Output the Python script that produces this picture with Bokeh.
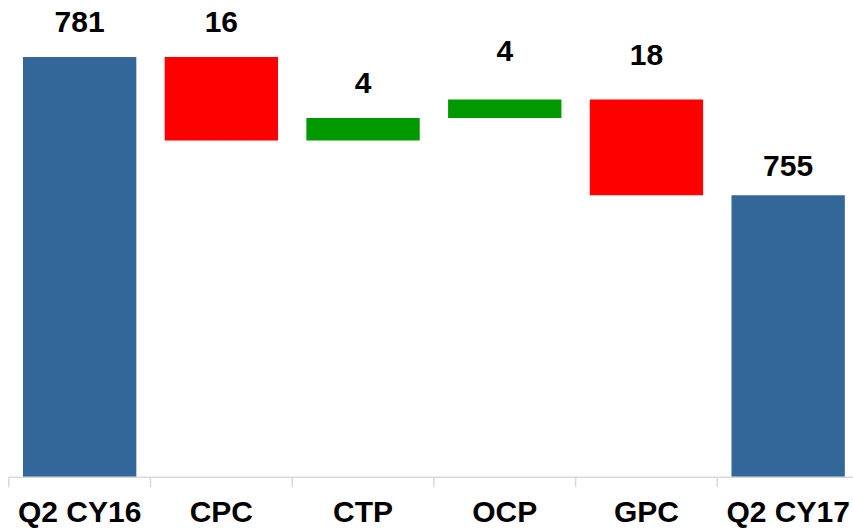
from bokeh.plotting import figure
from bokeh.models import ColumnDataSource, Range1d
from bokeh.core.properties import value
from bokeh.embed import file_html
from bokeh.resources import INLINE

categories = ["Q2 CY16", "CPC", "CTP", "OCP", "GPC", "Q2 CY17"]
changes = [781, -15.7, 4.2, 3.5, -18.0, 755]
is_total = [True, False, False, False, False, True]
value_labels = ["781", "16", "4", "4", "18", "755"]

BLUE, RED, GREEN = "#336699", "#FF0000", "#009900"
AXIS_GRAY = "#D9D9D9"
Y0 = 702          # value where the category axis sits

W, H = 853, 531
PX_X = 141.7      # pixels per category
PX_Y = 5.32       # pixels per unit
LEFT_PAD = 8.3    # pixels from left edge to first category boundary
AXIS_PX = 476.7   # pixels from top edge to axis line
# gap in pixels between each value label and the top of its bar
label_gap_px = [24, 24, 24, 37, 33, 18]

x_start = -LEFT_PAD / PX_X
y_end = Y0 + AXIS_PX / PX_Y

xs, bottoms, tops, colors = [], [], [], []
run = 0
for i, (c, t) in enumerate(zip(changes, is_total)):
    xs.append(i + 0.5)
    if t:
        bottoms.append(Y0)
        tops.append(c)
        run = c
        colors.append(BLUE)
    else:
        new = run + c
        bottoms.append(min(run, new))
        tops.append(max(run, new))
        colors.append(GREEN if c > 0 else RED)
        run = new

label_y = [t + g / PX_Y for t, g in zip(tops, label_gap_px)]

src = ColumnDataSource(dict(x=xs, bottom=bottoms, top=tops, color=colors))
lab_src = ColumnDataSource(dict(x=xs, y=label_y, label=value_labels))
cat_src = ColumnDataSource(dict(x=xs, y=[Y0] * len(xs), label=categories))

p = figure(width=W, height=H, output_backend="svg", toolbar_location=None,
           x_range=Range1d(x_start, x_start + W / PX_X),
           y_range=Range1d(y_end - H / PX_Y, y_end),
           x_axis_location=None, y_axis_location=None,
           min_border=0)
p.outline_line_color = None
p.xgrid.visible = False
p.ygrid.visible = False

p.vbar(x="x", bottom="bottom", top="top", width=0.8, fill_color="color",
       line_color=None, source=src)

# category axis line and boundary ticks
n = len(categories)
p.segment(x0=[0], y0=[Y0], x1=[n], y1=[Y0], line_color=AXIS_GRAY, line_width=1.5)
bounds = list(range(n))
p.segment(x0=bounds, y0=[Y0] * n, x1=bounds, y1=[Y0 - 10 / PX_Y] * n,
          line_color=AXIS_GRAY, line_width=1.5)

p.text(x="x", y="y", text="label", source=lab_src, y_offset=-11,
       text_align="center", text_baseline="alphabetic",
       text_font=value("Liberation Sans"), text_font_style="bold",
       text_font_size="30px", text_color="black")

p.text(x="x", y="y", text="label", source=cat_src, y_offset=34,
       text_align="center", text_baseline="alphabetic",
       text_font=value("Liberation Sans"), text_font_style="bold",
       text_font_size="30px", text_color="black")

open("out.html", "w").write(file_html(p, INLINE))
